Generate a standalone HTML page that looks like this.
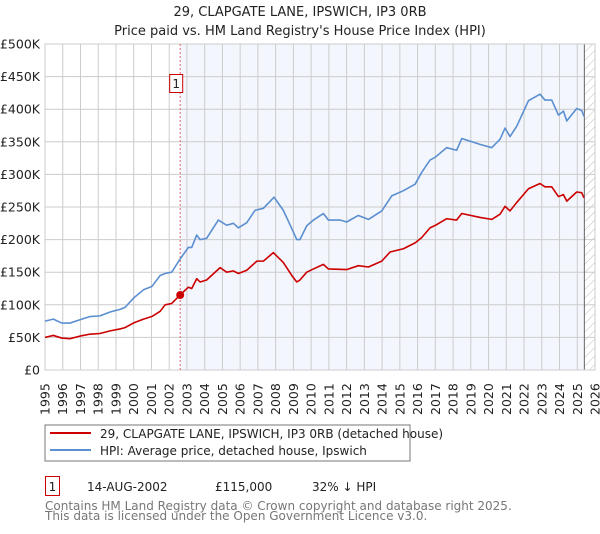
<!DOCTYPE html>
<html><head><meta charset="utf-8"><style>
body{margin:0;background:#fff;font-family:"DejaVu Sans","Liberation Sans",sans-serif;}
svg text{font-family:"DejaVu Sans","Liberation Sans",sans-serif;}
</style></head><body>
<svg id="chart" width="600" height="530" xmlns="http://www.w3.org/2000/svg">
<defs><pattern id="hatch" width="6" height="6" patternUnits="userSpaceOnUse" patternTransform="rotate(45)"><line x1="0" y1="0" x2="0" y2="6" stroke="#bbb" stroke-width="1"/></pattern></defs>
<text x="300" y="16" text-anchor="middle" font-size="13" fill="#222">29, CLAPGATE LANE, IPSWICH, IP3 0RB</text>
<text x="300" y="35" text-anchor="middle" font-size="13" fill="#222">Price paid vs. HM Land Registry's House Price Index (HPI)</text>
<g id="plot"></g>
<rect x="45" y="425" width="365" height="36" fill="#fff" stroke="#777"/>
<line x1="50" y1="433" x2="91" y2="433" stroke="#cc0000" stroke-width="2"/>
<text x="100" y="438" font-size="12" fill="#222">29, CLAPGATE LANE, IPSWICH, IP3 0RB (detached house)</text>
<line x1="50" y1="450" x2="91" y2="450" stroke="#5b8fd0" stroke-width="2"/>
<text x="100" y="455" font-size="12" fill="#222">HPI: Average price, detached house, Ipswich</text>
<rect x="45.5" y="476.5" width="14" height="19" fill="#fff" stroke="#cc0000"/>
<text x="52.5" y="491" text-anchor="middle" font-size="12" fill="#222">1</text>
<text x="87" y="491" font-size="12" fill="#222">14-AUG-2002</text>
<text x="215" y="491" font-size="12" fill="#222">£115,000</text>
<text x="312" y="491" font-size="12" fill="#222">32% ↓ HPI</text>
<text x="45" y="510" font-size="12" fill="#777">Contains HM Land Registry data © Crown copyright and database right 2025.</text>
<text x="45" y="520" font-size="12" fill="#777">This data is licensed under the Open Government Licence v3.0.</text>
</svg>
<script>
const yTicks=[0,50,100,150,200,250,300,350,400,450,500];
const yTickLabels=["£0","£50K","£100K","£150K","£200K","£250K","£300K","£350K","£400K","£450K","£500K"];
const xYears=[1995,1996,1997,1998,1999,2000,2001,2002,2003,2004,2005,2006,2007,2008,2009,2010,2011,2012,2013,2014,2015,2016,2017,2018,2019,2020,2021,2022,2023,2024,2025,2026];
const hpiDates=[1995.0,1995.47,1995.94,1996.41,1996.97,1997.54,1998.1,1998.67,1999.23,1999.51,1999.98,2000.55,2001.02,2001.49,2001.77,2002.14,2002.61,2003.08,2003.27,2003.55,2003.74,2004.11,2004.77,2005.24,2005.62,2005.9,2006.37,2006.84,2007.31,2007.91,2008.43,2008.72,2009.19,2009.37,2009.75,2010.13,2010.69,2010.97,2011.63,2012.0,2012.66,2013.23,2013.98,2014.54,2015.2,2015.86,2016.23,2016.7,2016.98,2017.64,2018.2,2018.49,2019.52,2020.18,2020.65,2020.93,2021.21,2021.59,2022.25,2022.9,2023.18,2023.56,2023.94,2024.22,2024.41,2024.97,2025.25,2025.38];
const hpiValues=[75,78,72,72,77,82,83,89,93,96,110,123,128,145,148,150,170,188,188,207,200,202,230,222,225,218,226,245,248,265,245,228,200,200,221,230,240,230,230,227,237,231,244,267,275,285,303,322,326,341,337,355,346,341,354,371,358,374,413,423,414,414,391,397,382,401,398,389];
const priceDates=[1995.0,1995.47,1995.94,1996.41,1996.97,1997.54,1998.1,1998.67,1999.23,1999.51,1999.98,2000.55,2001.02,2001.49,2001.77,2002.14,2002.61,2003.08,2003.27,2003.55,2003.74,2004.11,2004.87,2005.24,2005.62,2005.9,2006.37,2006.94,2007.31,2007.87,2008.43,2008.91,2009.19,2009.37,2009.75,2010.13,2010.69,2010.97,2012.0,2012.66,2013.23,2013.98,2014.45,2015.2,2015.86,2016.23,2016.7,2017.08,2017.64,2018.2,2018.49,2019.52,2020.18,2020.65,2020.93,2021.21,2021.59,2022.25,2022.9,2023.18,2023.56,2023.94,2024.22,2024.41,2024.97,2025.25,2025.38];
const priceValues=[50,53,49,48,52,55,56,60,63,65,72,78,82,90,100,102,115,127,125,140,135,138,157,150,152,148,153,167,167,180,165,145,135,138,150,155,162,155,154,160,158,167,181,186,195,203,218,223,232,230,240,234,231,239,251,244,257,278,286,281,281,266,269,259,273,272,264];
const saleDate=[2002.62];
const saleValue=[115];
const endDate=[2025.4];

const NS="http://www.w3.org/2000/svg";
const L=45,R=595,T=44,B=370,X0=1995,X1=2026,YMAX=500;
const sx=v=>L+(v-X0)/(X1-X0)*(R-L);
const sy=v=>B-v/YMAX*(B-T);
const plot=document.getElementById('plot');
function mk(tag,attrs,parent){const e=document.createElementNS(NS,tag);for(const k in attrs)e.setAttribute(k,attrs[k]);(parent||plot).appendChild(e);return e;}

let bg=mk('rect',{x:L,y:T,width:R-L,height:B-T,fill:'#fff'});


let sh=mk('rect',{x:sx(saleDate[0]),y:T,width:sx(endDate[0])-sx(saleDate[0]),height:B-T,fill:'#f3f6fd'});


let ht=mk('rect',{x:sx(endDate[0]),y:T,width:R-sx(endDate[0]),height:B-T,fill:'url(#hatch)'});



yTicks.forEach((t,i)=>{
  let g=mk('line',{x1:L,x2:R,y1:sy(t),y2:sy(t),stroke:'#cccccc','stroke-width':1});
  
  
  let tx=mk('text',{x:L-5,y:sy(t)+4.5,'text-anchor':'end','font-size':12.5,fill:'#222'});
  tx.textContent=yTickLabels[i];
  
  
});
xYears.forEach(y=>{
  let g=mk('line',{x1:sx(y),x2:sx(y),y1:T,y2:B,stroke:'#cccccc','stroke-width':1});
  
  
  let tx=mk('text',{x:0,y:0,'font-size':12.5,fill:'#222',transform:`translate(${sx(y)+4.5},${B+45}) rotate(-90)`});
  tx.textContent=String(y);
  
  
});
let el=mk('line',{x1:sx(endDate[0]),x2:sx(endDate[0]),y1:T,y2:B,stroke:'#666','stroke-width':1});


let border=mk('rect',{x:L,y:T,width:R-L,height:B-T,fill:'none',stroke:'#cccccc'});


let vl=mk('line',{x1:sx(saleDate[0]),x2:sx(saleDate[0]),y1:T,y2:B,stroke:'#e06666','stroke-dasharray':'2,2','stroke-width':1});



let hp=mk('polyline',{points:hpiDates.map((d,i)=>sx(d)+','+sy(hpiValues[i])).join(' '),fill:'none',stroke:'#5b8fd0','stroke-width':1.6,'stroke-linejoin':'round'});


let pp=mk('polyline',{points:priceDates.map((d,i)=>sx(d)+','+sy(priceValues[i])).join(' '),fill:'none',stroke:'#cc0000','stroke-width':1.6,'stroke-linejoin':'round'});


let dot=mk('circle',{cx:sx(saleDate[0]),cy:sy(saleValue[0]),r:4,fill:'#cc0000'});


let mb=mk('rect',{x:sx(saleDate[0])-10.5,y:T+30.5,width:13,height:18,fill:'#fff',stroke:'#cc0000'});


let mt=mk('text',{x:sx(saleDate[0])-4,y:T+44,'text-anchor':'middle','font-size':12,fill:'#222'});
mt.textContent='1';


</script>
</body></html>
